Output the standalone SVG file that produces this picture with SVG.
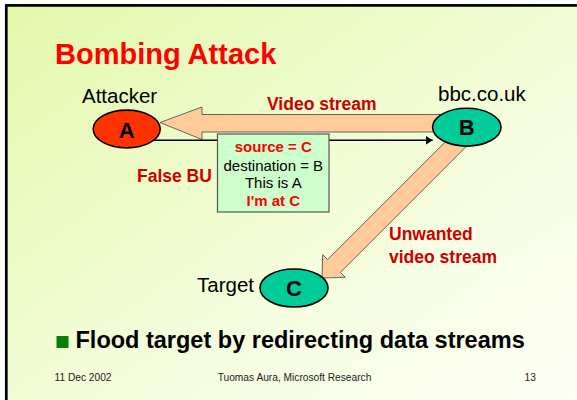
<svg xmlns="http://www.w3.org/2000/svg" width="577" height="400" viewBox="0 0 577 400">
  <defs>
    <linearGradient id="slideBg" x1="0" y1="0" x2="1" y2="1">
      <stop offset="0" stop-color="#E3F8AA"/>
      <stop offset="0.55" stop-color="#F4FDDC"/>
      <stop offset="1" stop-color="#FFFFF8"/>
    </linearGradient>
    <marker id="thinHead" markerUnits="userSpaceOnUse" markerWidth="8" markerHeight="10" refX="7" refY="5" orient="auto">
      <path d="M0,0.6 L7,5 L0,9.4 Z" fill="#000"/>
    </marker>
  </defs>
  <style>
    text { font-family: "Liberation Sans", Arial, sans-serif; }
    .title { font-size: 29px; font-weight: bold; fill: #FF0000; }
    .name { font-size: 20.5px; fill: #000; }
    .node { stroke: #000; stroke-width: 1.6; }
    .letter { font-size: 22px; font-weight: bold; fill: #000; text-anchor: middle; }
    .flow { fill: #FFCC99; stroke: #444; stroke-width: 0.8; stroke-linejoin: miter; }
    .label { font-size: 17.5px; font-weight: bold; fill: #CC0000; }
    .pkt { font-size: 15px; text-anchor: middle; fill: #000; }
    .pkt-hot { font-weight: bold; fill: #FF0000; }
    .bullet { font-size: 23.5px; font-weight: bold; fill: #000; }
    .foot { font-size: 10.2px; fill: #222; }
  </style>

  <!-- slide background and frame -->
  <rect x="0" y="0" width="577" height="400" fill="#FFFFFF"/>
  <rect x="6.3" y="5.4" width="600" height="420" fill="url(#slideBg)" stroke="#000" stroke-width="2.7"/>

  <text class="title" x="55" y="64">Bombing Attack</text>

  <!-- connectors: data streams and the binding update -->
  <g id="connectors">
    <polygon id="video-stream" class="flow" points="456,114.5 202,114.5 202,107 160,122.5 202,139.5 202,132 456,132"/>
    <polygon id="unwanted-stream" class="flow" points="455.6,131.6 468.4,144.4 340.4,272.4 345.3,277.3 322,278 322.7,254.7 327.6,259.6"/>
    <line id="false-bu" x1="150" y1="140.3" x2="432.7" y2="140.3" stroke="#000" stroke-width="1.6" marker-end="url(#thinHead)"/>
  </g>

  <!-- connector labels -->
  <text class="label" x="267" y="110">Video stream</text>
  <text class="label" x="137" y="182">False BU</text>
  <text class="label" x="389" y="240">Unwanted</text>
  <text class="label" x="389" y="263">video stream</text>

  <!-- spoofed binding update contents -->
  <g id="packet">
    <rect x="217.5" y="134" width="111.5" height="78" fill="#CCFFCC" stroke="#555" stroke-width="1.2"/>
    <text class="pkt pkt-hot" x="273.3" y="152">source = C</text>
    <text class="pkt" x="273.3" y="170.5">destination = B</text>
    <text class="pkt" x="273.3" y="188.3">This is A</text>
    <text class="pkt pkt-hot" x="273.3" y="205.5">I'm at C</text>
  </g>

  <g id="node-A">
    <text class="name" x="82" y="103.3">Attacker</text>
    <ellipse class="node" cx="126.7" cy="129" rx="33.5" ry="18.9" fill="#FF3300"/>
    <text class="letter" x="126.7" y="137.5">A</text>
  </g>

  <g id="node-B">
    <text class="name" x="438" y="100.7">bbc.co.uk</text>
    <ellipse class="node" cx="466.8" cy="127.2" rx="34.2" ry="18.9" fill="#00CC99"/>
    <text class="letter" x="466.8" y="135.2">B</text>
  </g>

  <g id="node-C">
    <text class="name" x="197" y="292">Target</text>
    <ellipse class="node" cx="294" cy="288" rx="34" ry="19" fill="#00CC99"/>
    <text class="letter" x="294" y="296.3">C</text>
  </g>

  <!-- bullet point -->
  <rect x="56.5" y="336" width="12" height="12" fill="#0B7D0B"/>
  <text class="bullet" x="75.5" y="348">Flood target by redirecting data streams</text>

  <!-- footer -->
  <text class="foot" x="54.5" y="381">11 Dec 2002</text>
  <text class="foot" x="294.5" y="381" text-anchor="middle">Tuomas Aura, Microsoft Research</text>
  <text class="foot" x="524.5" y="381">13</text>
</svg>
